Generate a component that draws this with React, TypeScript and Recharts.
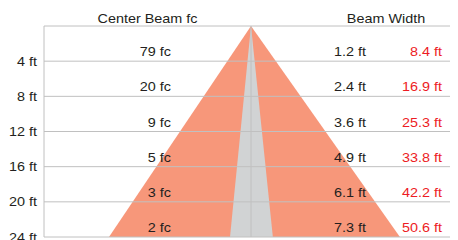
import React from 'react';
import { ComposedChart, Area, XAxis, YAxis, ReferenceLine } from 'recharts';

// Depth rows (ft) and values
const depths = [4, 8, 12, 16, 20, 24];
const centerFc = [79, 20, 9, 5, 3, 2];
const fieldWidth = [1.2, 2.4, 3.6, 4.9, 6.1, 7.3];
const beamWidth = [8.4, 16.9, 25.3, 33.8, 42.2, 50.6];
const gridDepths = [0, 4, 8, 12, 16, 20, 24];
const headers = ['Center Beam fc', 'Beam Width'];

// Beam cone outline: x = ft across, y = depth ft
const coneX = [-24.7, 0, 25.9];
const coneY = [24, 0, 24];
// Center beam outline
const coreX = [-3.65, 0, 3.8];
const coreY = [24, 0, 24];

const coneData = coneX.map((x, i) => ({ x, y: coneY[i] }));
const coreData = coreX.map((x, i) => ({ x, y: coreY[i] }));

const FONT = "'Liberation Sans', Arial, Helvetica, sans-serif";
const SX = 1.2;
const DARK = '#231f20';
const RED = '#ed1c24';
const GRID = '#c0c0c0';

const T = ({ x, y, anchor, fill, children }: any) => (
  <text
    transform={`translate(${x},${y}) scale(${SX},1)`}
    textAnchor={anchor}
    fill={fill}
    fontSize={12}
    fontFamily={FONT}
  >
    {children}
  </text>
);

const RowLabel = ({ viewBox, i }: any) => {
  if (!viewBox) return null;
  const x0 = viewBox.x;
  const y = viewBox.y - 5;
  return (
    <g>
      <T x={x0 + 127} y={y} anchor="end" fill={DARK}>{`${centerFc[i]} fc`}</T>
      <T x={x0 + 322} y={y} anchor="end" fill={DARK}>{`${fieldWidth[i]} ft`}</T>
      <T x={x0 + 398} y={y} anchor="end" fill={RED}>{`${beamWidth[i]} ft`}</T>
    </g>
  );
};

const HeaderLabel = ({ viewBox }: any) => {
  if (!viewBox) return null;
  const x0 = viewBox.x;
  const y = viewBox.y - 3;
  return (
    <g>
      <T x={x0 + 103.5} y={y} anchor="middle" fill={DARK}>{headers[0]}</T>
      <T x={x0 + 342} y={y} anchor="middle" fill={DARK}>{headers[1]}</T>
    </g>
  );
};

const YTick = ({ x, y, payload }: any) => (
  <T x={x} y={y + 4.5} anchor="end" fill={DARK}>{`${payload.value} ft`}</T>
);

export default function App() {
  return (
    <div style={{ margin: -8, width: 458, borderTop: '1px solid #1db4ba' }}>
      <ComposedChart
        width={458}
        height={259}
        margin={{ top: 25, right: 0, bottom: 23, left: 0 }}
      >
        <XAxis type="number" dataKey="x" domain={[-36, 36]} hide allowDataOverflow />
        <YAxis
          type="number"
          dataKey="y"
          domain={[0, 24]}
          reversed
          ticks={depths}
          width={44}
          tickLine={false}
          tickMargin={1}
          axisLine={{ stroke: GRID, strokeWidth: 1 }}
          tick={<YTick />}
          allowDataOverflow
        />
        <Area
          data={coneData}
          dataKey="y"
          type="linear"
          baseValue="dataMax"
          fill="#f7977a"
          fillOpacity={1}
          stroke="none"
          isAnimationActive={false}
          dot={false}
          activeDot={false}
        />
        <Area
          data={coreData}
          dataKey="y"
          type="linear"
          baseValue="dataMax"
          fill="#d1d3d4"
          fillOpacity={1}
          stroke="none"
          isAnimationActive={false}
          dot={false}
          activeDot={false}
        />
        <ReferenceLine
          segment={[{ x: 0, y: 0 }, { x: 0, y: 24 }]}
          stroke={GRID}
          strokeWidth={1}
        />
        <ReferenceLine y={0} stroke={GRID} strokeWidth={1} label={<HeaderLabel />} />
        {depths.map((d, i) => (
          <ReferenceLine key={d} y={d} stroke={GRID} strokeWidth={1} label={<RowLabel i={i} />} />
        ))}
      </ComposedChart>
    </div>
  );
}
